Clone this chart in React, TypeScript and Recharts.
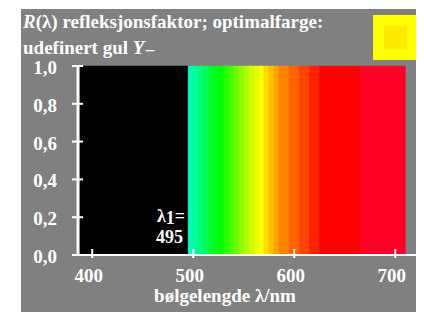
import React from 'react';
import { ComposedChart, XAxis, YAxis, ReferenceArea, ReferenceLine } from 'recharts';

// wavelength bands (nm) and their display colours
const bandStarts = [386, 495, 500, 505, 510, 515, 520, 525, 530, 535, 540, 545, 550, 555, 560, 565, 570, 575, 580, 585, 595, 605, 615, 625, 665];
const bandEnds = [495, 500, 505, 510, 515, 520, 525, 530, 535, 540, 545, 550, 555, 560, 565, 570, 575, 580, 585, 595, 605, 615, 625, 665, 710];
const bandColors = [
  '#000000', '#00ffb4', '#00ff96', '#00ff78', '#00ff5a', '#00ff32', '#00ff14', '#00ff00',
  '#23ff00', '#46ff00', '#69ff00', '#8cff00', '#afff00', '#cdff00', '#e6ff00', '#ffff00',
  '#ffdc00', '#ffbe00', '#ffa500', '#ff8200', '#ff6400', '#ff4600', '#ff2300', '#ff0000', '#ff0026',
];
const bandReflectance = [1, 1, 1, 1, 1, 1, 1, 1, 1, 1, 1, 1, 1, 1, 1, 1, 1, 1, 1, 1, 1, 1, 1, 1, 1];

const xTicks = [400, 500, 600, 700];
const yTicks = [0, 0.2, 0.4, 0.6, 0.8, 1.0];
const yTickLabels = ['0,0', '0,2', '0,4', '0,6', '0,8', '1,0'];
const xDomain = [381, 722.5];
const yAxisAt = 386;
const lambda1 = 495;

const data = bandStarts.map((s, i) => ({ x: s, r: bandReflectance[i] }));

const W = 403;
const H = 303;
const BG = '#808080';
const font: React.CSSProperties = {
  fontFamily: '"Liberation Serif", "Times New Roman", serif',
  fontWeight: 'bold',
  fontSize: 19,
};
const smallFont: React.CSSProperties = { ...font, fontSize: 18 };

const XTick = (props: any) => {
  const { x, y, payload } = props;
  return (
    <g>
      <line x1={x} x2={x} y1={y - 6} y2={y + 3} stroke="#fff" strokeWidth={2} />
      <text x={x - 3.5} y={y + 27} textAnchor="middle" fill="#fff" style={font}>
        {payload.value}
      </text>
    </g>
  );
};

const YTick = (props: any) => {
  const { x, y, payload } = props;
  const idx = yTicks.indexOf(payload.value);
  return (
    <g>
      <line x1={x - 1} x2={x + 10} y1={y} y2={y} stroke="#fff" strokeWidth={2} />
      <text x={x - 16} y={y + 8} textAnchor="end" fill="#fff" style={font}>
        {yTickLabels[idx]}
      </text>
    </g>
  );
};

export default function App() {
  return (
    <div style={{ position: 'relative', width: W, height: H, marginLeft: 13, marginTop: 1, background: BG }}>
      <ComposedChart
        width={W}
        height={H}
        data={data}
        margin={{ top: 57, right: 6, bottom: 0, left: 0 }}
        style={{ background: BG }}
      >
        <XAxis
          type="number"
          dataKey="x"
          domain={xDomain}
          ticks={xTicks}
          allowDataOverflow
          height={57}
          tickSize={0}
          tickMargin={0}
          tickLine={false}
          axisLine={{ stroke: '#fff', strokeWidth: 2 }}
          tick={<XTick />}
        />
        <YAxis
          type="number"
          domain={[0, 1]}
          ticks={yTicks}
          width={52}
          tickSize={0}
          tickMargin={0}
          tickLine={false}
          axisLine={false}
          tick={<YTick />}
        />
        {bandStarts.map((s, i) => (
          <ReferenceArea
            key={i}
            x1={s}
            x2={bandEnds[i]}
            y1={0}
            y2={bandReflectance[i]}
            fill={bandColors[i]}
            fillOpacity={1}
            stroke={bandColors[i]}
            strokeWidth={0.5}
            ifOverflow="extendDomain"
          />
        ))}
        <ReferenceLine x={yAxisAt} stroke="#fff" strokeWidth={3} />
      </ComposedChart>
      <svg
        width={W}
        height={H}
        style={{ position: 'absolute', left: 0, top: 0, pointerEvents: 'none' }}
      >
        <text x={2} y={19} fill="#fff" style={font}>
          <tspan fontStyle="italic">R</tspan>(λ) refleksjonsfaktor; optimalfarge:
        </text>
        <text x={2} y={45} fill="#fff" style={font}>
          udefinert gul <tspan fontStyle="italic">Y</tspan>
          <tspan dy={3}>−</tspan>
        </text>
        <rect x={352} y={6} width={45} height={45} fill="#ffff00" />
        <rect x={363} y={17} width={23} height={23} fill="#ffeb00" />
        <text x={164} y={213} textAnchor="end" fill="#fff" style={smallFont}>
          λ<tspan dy={2}>1</tspan>
          <tspan dy={-2}>=</tspan>
        </text>
        <text x={162} y={234} textAnchor="end" fill="#fff" style={smallFont}>
          {lambda1}
        </text>
        <text x={204} y={293} textAnchor="middle" fill="#fff" style={font}>
          bølgelengde λ/nm
        </text>
      </svg>
    </div>
  );
}
